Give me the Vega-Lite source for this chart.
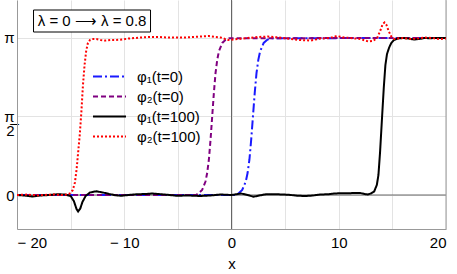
{
  "$schema": "https://vega.github.io/schema/vega-lite/v6.json",
  "width": 429,
  "height": 229,
  "autosize": {"type": "none"},
  "padding": {"left": 17, "top": 0, "right": 11, "bottom": 45},
  "background": "white",
  "config": {
    "view": {"stroke": null},
    "font": "Liberation Sans",
    "axis": {
      "domainColor": "#999999",
      "domainWidth": 1,
      "ticks": false,
      "labelFont": "Liberation Sans",
      "labelFontSize": 15,
      "labelColor": "black",
      "gridColor": "#e3e3e3",
      "gridWidth": 1,
      "titleFont": "Liberation Sans",
      "titleFontSize": 15,
      "titleFontWeight": "normal",
      "titleColor": "black"
    },
    "legend": {
      "orient": "none",
      "legendX": 85,
      "legendY": 69,
      "title": null,
      "symbolType": "M-3,0H3",
      "symbolSize": 121,
      "symbolStrokeWidth": 2,
      "labelFont": "Liberation Sans",
      "labelFontSize": 15,
      "labelColor": "black",
      "labelOffset": 20,
      "rowPadding": 4,
      "padding": 0
    }
  },
  "datasets": {
    "curves": [
      {"series": "φ₁(t=0)", "x": -20, "v": 0},
      {"series": "φ₁(t=0)", "x": 0.5, "v": 0},
      {"series": "φ₁(t=0)", "x": 0.67, "v": 0.037},
      {"series": "φ₁(t=0)", "x": 1.0, "v": 0.1},
      {"series": "φ₁(t=0)", "x": 1.33, "v": 0.269},
      {"series": "φ₁(t=0)", "x": 1.5, "v": 0.439},
      {"series": "φ₁(t=0)", "x": 1.67, "v": 0.705},
      {"series": "φ₁(t=0)", "x": 1.83, "v": 1.09},
      {"series": "φ₁(t=0)", "x": 2.0, "v": 1.571},
      {"series": "φ₁(t=0)", "x": 2.17, "v": 2.052},
      {"series": "φ₁(t=0)", "x": 2.33, "v": 2.437},
      {"series": "φ₁(t=0)", "x": 2.5, "v": 2.703},
      {"series": "φ₁(t=0)", "x": 2.67, "v": 2.873},
      {"series": "φ₁(t=0)", "x": 3.0, "v": 3.042},
      {"series": "φ₁(t=0)", "x": 3.33, "v": 3.105},
      {"series": "φ₁(t=0)", "x": 3.7, "v": 3.135},
      {"series": "φ₁(t=0)", "x": 20, "v": 3.1416},

      {"series": "φ₂(t=0)", "x": -20, "v": 0},
      {"series": "φ₂(t=0)", "x": -3.3, "v": 0},
      {"series": "φ₂(t=0)", "x": -3.05, "v": 0.037},
      {"series": "φ₂(t=0)", "x": -2.74, "v": 0.1},
      {"series": "φ₂(t=0)", "x": -2.425, "v": 0.269},
      {"series": "φ₂(t=0)", "x": -2.27, "v": 0.439},
      {"series": "φ₂(t=0)", "x": -2.11, "v": 0.705},
      {"series": "φ₂(t=0)", "x": -1.96, "v": 1.09},
      {"series": "φ₂(t=0)", "x": -1.8, "v": 1.571},
      {"series": "φ₂(t=0)", "x": -1.64, "v": 2.052},
      {"series": "φ₂(t=0)", "x": -1.49, "v": 2.437},
      {"series": "φ₂(t=0)", "x": -1.33, "v": 2.703},
      {"series": "φ₂(t=0)", "x": -1.175, "v": 2.873},
      {"series": "φ₂(t=0)", "x": -0.86, "v": 3.042},
      {"series": "φ₂(t=0)", "x": -0.55, "v": 3.105},
      {"series": "φ₂(t=0)", "x": -0.2, "v": 3.135},
      {"series": "φ₂(t=0)", "x": 20, "v": 3.1416},

      {"series": "φ₁(t=100)", "x": -20, "v": 0},
      {"series": "φ₁(t=100)", "x": -19.3, "v": -0.01},
      {"series": "φ₁(t=100)", "x": -18.6, "v": -0.03},
      {"series": "φ₁(t=100)", "x": -17.8, "v": -0.01},
      {"series": "φ₁(t=100)", "x": -17.0, "v": 0.0},
      {"series": "φ₁(t=100)", "x": -16.2, "v": 0.015},
      {"series": "φ₁(t=100)", "x": -15.5, "v": 0.01},
      {"series": "φ₁(t=100)", "x": -15.0, "v": -0.02},
      {"series": "φ₁(t=100)", "x": -14.7, "v": -0.12},
      {"series": "φ₁(t=100)", "x": -14.45, "v": -0.28},
      {"series": "φ₁(t=100)", "x": -14.3, "v": -0.33},
      {"series": "φ₁(t=100)", "x": -14.1, "v": -0.27},
      {"series": "φ₁(t=100)", "x": -13.9, "v": -0.14},
      {"series": "φ₁(t=100)", "x": -13.6, "v": -0.02},
      {"series": "φ₁(t=100)", "x": -13.2, "v": 0.05},
      {"series": "φ₁(t=100)", "x": -12.6, "v": 0.075},
      {"series": "φ₁(t=100)", "x": -12.0, "v": 0.05},
      {"series": "φ₁(t=100)", "x": -11.4, "v": 0.02},
      {"series": "φ₁(t=100)", "x": -10.8, "v": -0.005},
      {"series": "φ₁(t=100)", "x": -10.3, "v": -0.015},
      {"series": "φ₁(t=100)", "x": -9.6, "v": 0.0},
      {"series": "φ₁(t=100)", "x": -8.8, "v": 0.015},
      {"series": "φ₁(t=100)", "x": -8.0, "v": 0.02},
      {"series": "φ₁(t=100)", "x": -7.4, "v": 0.03},
      {"series": "φ₁(t=100)", "x": -6.8, "v": 0.02},
      {"series": "φ₁(t=100)", "x": -6.0, "v": 0.005},
      {"series": "φ₁(t=100)", "x": -5.1, "v": -0.015},
      {"series": "φ₁(t=100)", "x": -4.0, "v": -0.01},
      {"series": "φ₁(t=100)", "x": -2.9, "v": -0.02},
      {"series": "φ₁(t=100)", "x": -2.0, "v": -0.01},
      {"series": "φ₁(t=100)", "x": -1.0, "v": 0.01},
      {"series": "φ₁(t=100)", "x": 0.0, "v": 0.0},
      {"series": "φ₁(t=100)", "x": 0.9, "v": 0.03},
      {"series": "φ₁(t=100)", "x": 1.5, "v": 0.0},
      {"series": "φ₁(t=100)", "x": 2.05, "v": -0.035},
      {"series": "φ₁(t=100)", "x": 2.6, "v": -0.01},
      {"series": "φ₁(t=100)", "x": 3.2, "v": 0.015},
      {"series": "φ₁(t=100)", "x": 4.2, "v": 0.015},
      {"series": "φ₁(t=100)", "x": 5.3, "v": 0.005},
      {"series": "φ₁(t=100)", "x": 6.2, "v": -0.015},
      {"series": "φ₁(t=100)", "x": 6.9, "v": -0.02},
      {"series": "φ₁(t=100)", "x": 7.6, "v": -0.01},
      {"series": "φ₁(t=100)", "x": 8.3, "v": 0.01},
      {"series": "φ₁(t=100)", "x": 9.0, "v": 0.015},
      {"series": "φ₁(t=100)", "x": 9.6, "v": 0.03},
      {"series": "φ₁(t=100)", "x": 10.2, "v": 0.035},
      {"series": "φ₁(t=100)", "x": 10.9, "v": 0.035},
      {"series": "φ₁(t=100)", "x": 11.5, "v": 0.04},
      {"series": "φ₁(t=100)", "x": 12.0, "v": 0.04},
      {"series": "φ₁(t=100)", "x": 12.4, "v": 0.02},
      {"series": "φ₁(t=100)", "x": 12.7, "v": 0.01},
      {"series": "φ₁(t=100)", "x": 13.0, "v": 0.03},
      {"series": "φ₁(t=100)", "x": 13.3, "v": 0.07},
      {"series": "φ₁(t=100)", "x": 13.55, "v": 0.2},
      {"series": "φ₁(t=100)", "x": 13.7, "v": 0.4},
      {"series": "φ₁(t=100)", "x": 13.85, "v": 0.85},
      {"series": "φ₁(t=100)", "x": 14.05, "v": 1.6},
      {"series": "φ₁(t=100)", "x": 14.2, "v": 2.15},
      {"series": "φ₁(t=100)", "x": 14.35, "v": 2.6},
      {"series": "φ₁(t=100)", "x": 14.5, "v": 2.82},
      {"series": "φ₁(t=100)", "x": 14.7, "v": 2.95},
      {"series": "φ₁(t=100)", "x": 14.9, "v": 3.04},
      {"series": "φ₁(t=100)", "x": 15.15, "v": 3.1},
      {"series": "φ₁(t=100)", "x": 15.5, "v": 3.13},
      {"series": "φ₁(t=100)", "x": 16.0, "v": 3.14},
      {"series": "φ₁(t=100)", "x": 16.5, "v": 3.13},
      {"series": "φ₁(t=100)", "x": 17.0, "v": 3.11},
      {"series": "φ₁(t=100)", "x": 17.5, "v": 3.12},
      {"series": "φ₁(t=100)", "x": 18.0, "v": 3.14},
      {"series": "φ₁(t=100)", "x": 18.5, "v": 3.135},
      {"series": "φ₁(t=100)", "x": 19.0, "v": 3.14},
      {"series": "φ₁(t=100)", "x": 20.0, "v": 3.14},

      {"series": "φ₂(t=100)", "x": -20, "v": 0.0},
      {"series": "φ₂(t=100)", "x": -19.0, "v": 0.01},
      {"series": "φ₂(t=100)", "x": -18.2, "v": -0.01},
      {"series": "φ₂(t=100)", "x": -17.5, "v": 0.0},
      {"series": "φ₂(t=100)", "x": -16.5, "v": 0.01},
      {"series": "φ₂(t=100)", "x": -15.8, "v": 0.0},
      {"series": "φ₂(t=100)", "x": -15.3, "v": 0.01},
      {"series": "φ₂(t=100)", "x": -15.0, "v": 0.04},
      {"series": "φ₂(t=100)", "x": -14.8, "v": 0.1},
      {"series": "φ₂(t=100)", "x": -14.6, "v": 0.25},
      {"series": "φ₂(t=100)", "x": -14.45, "v": 0.5},
      {"series": "φ₂(t=100)", "x": -14.3, "v": 0.85},
      {"series": "φ₂(t=100)", "x": -14.15, "v": 1.2},
      {"series": "φ₂(t=100)", "x": -14.0, "v": 1.65},
      {"series": "φ₂(t=100)", "x": -13.85, "v": 2.2},
      {"series": "φ₂(t=100)", "x": -13.7, "v": 2.6},
      {"series": "φ₂(t=100)", "x": -13.55, "v": 2.88},
      {"series": "φ₂(t=100)", "x": -13.4, "v": 3.03},
      {"series": "φ₂(t=100)", "x": -13.2, "v": 3.1},
      {"series": "φ₂(t=100)", "x": -13.0, "v": 3.12},
      {"series": "φ₂(t=100)", "x": -12.6, "v": 3.12},
      {"series": "φ₂(t=100)", "x": -12.2, "v": 3.1},
      {"series": "φ₂(t=100)", "x": -11.8, "v": 3.09},
      {"series": "φ₂(t=100)", "x": -11.3, "v": 3.1},
      {"series": "φ₂(t=100)", "x": -10.8, "v": 3.1},
      {"series": "φ₂(t=100)", "x": -10.2, "v": 3.11},
      {"series": "φ₂(t=100)", "x": -9.6, "v": 3.13},
      {"series": "φ₂(t=100)", "x": -9.0, "v": 3.14},
      {"series": "φ₂(t=100)", "x": -8.4, "v": 3.15},
      {"series": "φ₂(t=100)", "x": -7.6, "v": 3.16},
      {"series": "φ₂(t=100)", "x": -6.8, "v": 3.16},
      {"series": "φ₂(t=100)", "x": -6.0, "v": 3.15},
      {"series": "φ₂(t=100)", "x": -5.2, "v": 3.15},
      {"series": "φ₂(t=100)", "x": -4.4, "v": 3.15},
      {"series": "φ₂(t=100)", "x": -3.6, "v": 3.16},
      {"series": "φ₂(t=100)", "x": -2.8, "v": 3.17},
      {"series": "φ₂(t=100)", "x": -2.1, "v": 3.18},
      {"series": "φ₂(t=100)", "x": -1.5, "v": 3.16},
      {"series": "φ₂(t=100)", "x": -1.0, "v": 3.15},
      {"series": "φ₂(t=100)", "x": -0.3, "v": 3.1},
      {"series": "φ₂(t=100)", "x": 0.6, "v": 3.12},
      {"series": "φ₂(t=100)", "x": 1.5, "v": 3.14},
      {"series": "φ₂(t=100)", "x": 2.5, "v": 3.16},
      {"series": "φ₂(t=100)", "x": 3.4, "v": 3.17},
      {"series": "φ₂(t=100)", "x": 4.4, "v": 3.15},
      {"series": "φ₂(t=100)", "x": 5.5, "v": 3.12},
      {"series": "φ₂(t=100)", "x": 6.4, "v": 3.1},
      {"series": "φ₂(t=100)", "x": 7.4, "v": 3.09},
      {"series": "φ₂(t=100)", "x": 8.3, "v": 3.13},
      {"series": "φ₂(t=100)", "x": 9.2, "v": 3.14},
      {"series": "φ₂(t=100)", "x": 9.8, "v": 3.18},
      {"series": "φ₂(t=100)", "x": 10.5, "v": 3.15},
      {"series": "φ₂(t=100)", "x": 11.1, "v": 3.14},
      {"series": "φ₂(t=100)", "x": 12.0, "v": 3.12},
      {"series": "φ₂(t=100)", "x": 12.75, "v": 3.07},
      {"series": "φ₂(t=100)", "x": 13.2, "v": 3.08},
      {"series": "φ₂(t=100)", "x": 13.6, "v": 3.15},
      {"series": "φ₂(t=100)", "x": 13.9, "v": 3.3},
      {"series": "φ₂(t=100)", "x": 14.1, "v": 3.42},
      {"series": "φ₂(t=100)", "x": 14.27, "v": 3.45},
      {"series": "φ₂(t=100)", "x": 14.45, "v": 3.4},
      {"series": "φ₂(t=100)", "x": 14.65, "v": 3.28},
      {"series": "φ₂(t=100)", "x": 14.9, "v": 3.17},
      {"series": "φ₂(t=100)", "x": 15.2, "v": 3.12},
      {"series": "φ₂(t=100)", "x": 15.5, "v": 3.13},
      {"series": "φ₂(t=100)", "x": 16.0, "v": 3.14},
      {"series": "φ₂(t=100)", "x": 16.7, "v": 3.12},
      {"series": "φ₂(t=100)", "x": 17.3, "v": 3.13},
      {"series": "φ₂(t=100)", "x": 18.0, "v": 3.15},
      {"series": "φ₂(t=100)", "x": 18.7, "v": 3.14},
      {"series": "φ₂(t=100)", "x": 19.4, "v": 3.12},
      {"series": "φ₂(t=100)", "x": 20.0, "v": 3.13}
    ],
    "zerorule": [{"x": 0}],
    "framerule": [{"x": 20}],
    "hrules": [{"v": 0}],
    "box": [{"x1": -18.46, "x2": -7.55, "y1": 3.26, "y2": 3.7, "xc": -13.0, "yc": 3.48, "label": "λ = 0 ⟶ λ = 0.8"}]
  },
  "layer": [
    {
      "data": {"name": "hrules"},
      "mark": {"type": "rule", "color": "#666666", "strokeWidth": 1},
      "encoding": {
        "y": {"field": "v", "type": "quantitative",
          "scale": {"domain": [-0.68, 3.9], "nice": false, "zero": false},
          "axis": {
            "values": [0, 1.5707963, 3.1415927],
            "title": null,
            "grid": true,
            "labelPadding": 3,
            "labelLineHeight": 14,
            "labelExpr": "datum.value < 0.5 ? '0' : (datum.value < 2 ? ['π', '2̅'] : 'π')"
          }
        }
      }
    },
    {
      "data": {"name": "zerorule"},
      "mark": {"type": "rule", "strokeWidth": 1, "color": "#666666"},
      "encoding": {
        "x": {"field": "x", "type": "quantitative",
          "scale": {"domain": [-20, 20], "nice": false, "zero": false},
          "axis": {
            "values": [-20, -15, -10, -5, 0, 5, 10, 15, 20],
            "title": "x",
            "grid": true,
            "labelPadding": 6,
            "titlePadding": 6,
            "labelExpr": "datum.value % 10 !== 0 ? '' : (datum.value < 0 ? '− ' + abs(datum.value) : '' + datum.value)"
          }
        }
      }
    },
    {
      "data": {"name": "framerule"},
      "mark": {"type": "rule", "strokeWidth": 1, "color": "#999999"},
      "encoding": {
        "x": {"field": "x", "type": "quantitative"}
      }
    },
    {
      "data": {"name": "curves"},
      "mark": {"type": "line", "strokeWidth": 2, "clip": true},
      "encoding": {
        "x": {"field": "x", "type": "quantitative"},
        "y": {"field": "v", "type": "quantitative"},
        "color": {
          "field": "series", "type": "nominal",
          "scale": {
            "domain": ["φ₁(t=0)", "φ₂(t=0)", "φ₁(t=100)", "φ₂(t=100)"],
            "range": ["#1a1aff", "#800080", "#000000", "#ff0000"]
          }
        },
        "strokeDash": {
          "field": "series", "type": "nominal",
          "scale": {
            "domain": ["φ₁(t=0)", "φ₂(t=0)", "φ₁(t=100)", "φ₂(t=100)"],
            "range": [[9, 3, 2, 3], [5, 3], [1, 0], [2, 2]]
          }
        }
      }
    },
    {
      "data": {"name": "box"},
      "mark": {"type": "rect", "fill": "white", "stroke": "black", "strokeWidth": 1},
      "encoding": {
        "x": {"field": "x1", "type": "quantitative"},
        "x2": {"field": "x2"},
        "y": {"field": "y1", "type": "quantitative"},
        "y2": {"field": "y2"}
      }
    },
    {
      "data": {"name": "box"},
      "mark": {"type": "text", "fontSize": 15, "font": "Liberation Sans", "color": "black", "align": "center", "baseline": "middle"},
      "encoding": {
        "x": {"field": "xc", "type": "quantitative"},
        "y": {"field": "yc", "type": "quantitative"},
        "text": {"field": "label"}
      }
    }
  ]
}
